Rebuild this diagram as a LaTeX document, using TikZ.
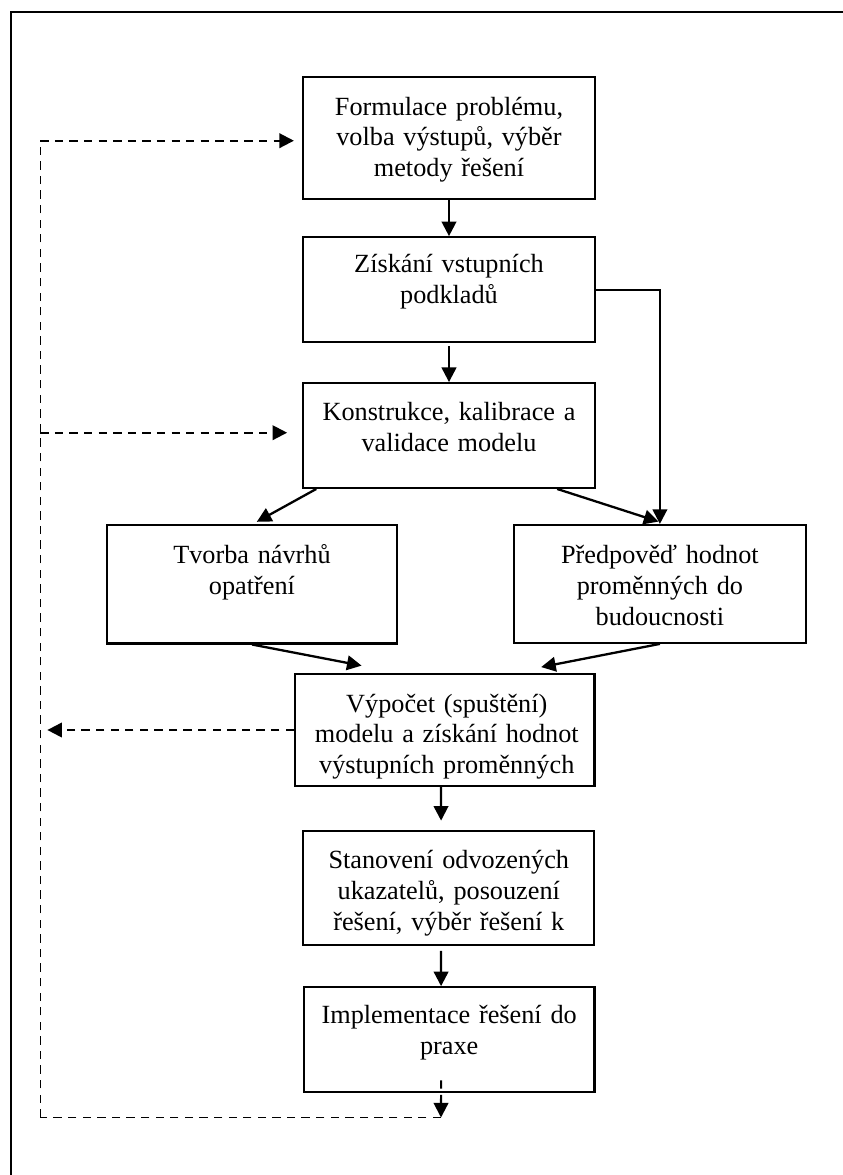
\documentclass[tikz,border=0pt]{standalone}
\usepackage{fontspec}
\setmainfont{Liberation Serif}
\usetikzlibrary{arrows.meta,calc}
\begin{document}
\begin{tikzpicture}[x=0.48pt,y=-0.48pt,
  box/.style={draw,line width=1.1pt,rectangle,inner sep=0pt},
  txt/.style={align=center,text width=150pt,inner sep=0pt,font=\fontsize{12.6pt}{14.7pt}\selectfont,anchor=base},
  arr/.style={line width=1.1pt,-{Triangle[length=7pt,width=7pt]}},
  dsh/.style={line width=1pt,dash pattern=on 4pt off 3pt},
  darr/.style={dsh,-{Triangle[length=7pt,width=7pt]}}]
\useasboundingbox (0,0) rectangle (843,1175);
\draw[line width=1pt] (11,1185) -- (11,12) -- (855,12);

\node[box,minimum width=140.2pt,minimum height=58.6pt] (b1) at (449,138) {};
\node[box,minimum width=139.9pt,minimum height=50.4pt] (b2) at (449,289.8) {};
\node[box,minimum width=139.9pt,minimum height=50.2pt] (b3) at (449,435.5) {};
\node[box,minimum width=139.5pt,minimum height=56.8pt] (b4) at (252,584.2) {};
\node[box,minimum width=140.0pt,minimum height=56.5pt] (b5) at (659.9,583.9) {};
\node[box,minimum width=143.7pt,minimum height=53.5pt] (b6) at (444.7,730) {};
\node[box,minimum width=139.7pt,minimum height=54.9pt] (b7) at (448.8,887.9) {};
\node[box,minimum width=139.6pt,minimum height=50.4pt] (b8) at (449.2,1039.8) {};

\node[txt] (t1) at ([yshift=-18.9pt]b1.north) {Formulace problému,\\volba výstupů, výběr\\metody řešení};
\node[txt] (t2) at ([yshift=-17.6pt]b2.north) {Získání vstupních\\podkladů};
\node[txt] (t3) at ([yshift=-18.4pt]b3.north) {Konstrukce, kalibrace a\\validace modelu};
\node[txt] (t4) at ([yshift=-19.2pt]b4.north) {Tvorba návrhů\\opatření};
\node[txt] (t5) at ([yshift=-19.2pt]b5.north) {Předpověď hodnot\\proměnných do\\budoucnosti};
\node[txt] (t6) at ([yshift=-18.7pt,xshift=1pt]b6.north) {Výpočet (spuštění)\\modelu a získání hodnot\\výstupních proměnných};
\node[txt] (t7) at ([yshift=-18.9pt]b7.north) {Stanovení odvozených\\ukazatelů, posouzení\\řešení, výběr řešení k};
\node[txt] (t8) at ([yshift=-18.1pt]b8.north) {Implementace řešení do\\praxe};

% solid connectors
\draw[arr] (b1.south) -- (b2.north);
\draw[arr] ([yshift=-1.4pt]b2.south) -- (b3.north);
\draw[arr] (b2.east) -| (b5.north);
\draw[arr] ([xshift=6.8pt]b3.south west) -- ([xshift=2.3pt,yshift=1pt]b4.north);
\draw[arr] ([xshift=-18.6pt]b3.south east) -- ([xshift=-0.7pt,yshift=1.1pt]b5.north);
\draw[arr] (b4.south) -- ([xshift=32.5pt,yshift=3.6pt]b6.north west);
\draw[arr] (b5.south) -- ([xshift=-26.1pt,yshift=2.9pt]b6.north east);
\draw[arr] ([xshift=-1.8pt]b6.south) -- ([xshift=-3.7pt,yshift=4.3pt]b7.north);
\draw[arr] ([xshift=-3.7pt,yshift=-2.2pt]b7.south) -- ([xshift=-3.9pt]b8.north);

% dashed feedback loop
\coordinate (corner) at (441,1117.5);
\coordinate (lb) at (40.3,1117.5);
\coordinate (lt) at (40.3,140.7);
\coordinate (m3) at (40.3,432.7);
\draw[darr] ([xshift=-3.9pt,yshift=6.3pt]b8.south) -- (corner);
\draw[dsh,line width=0.8pt] (corner) -- (lb);
\draw[dsh,line width=0.7pt] (lb) -- (lt);
\draw[darr,shorten >=3.8pt] (lt) -- (lt -| b1.west);
\draw[darr,shorten >=7.2pt] (m3) -- (m3 -| b3.west);
\draw[darr,shorten >=3.4pt] (b6.west) -- (b6.west -| lt);
\end{tikzpicture}
\end{document}
